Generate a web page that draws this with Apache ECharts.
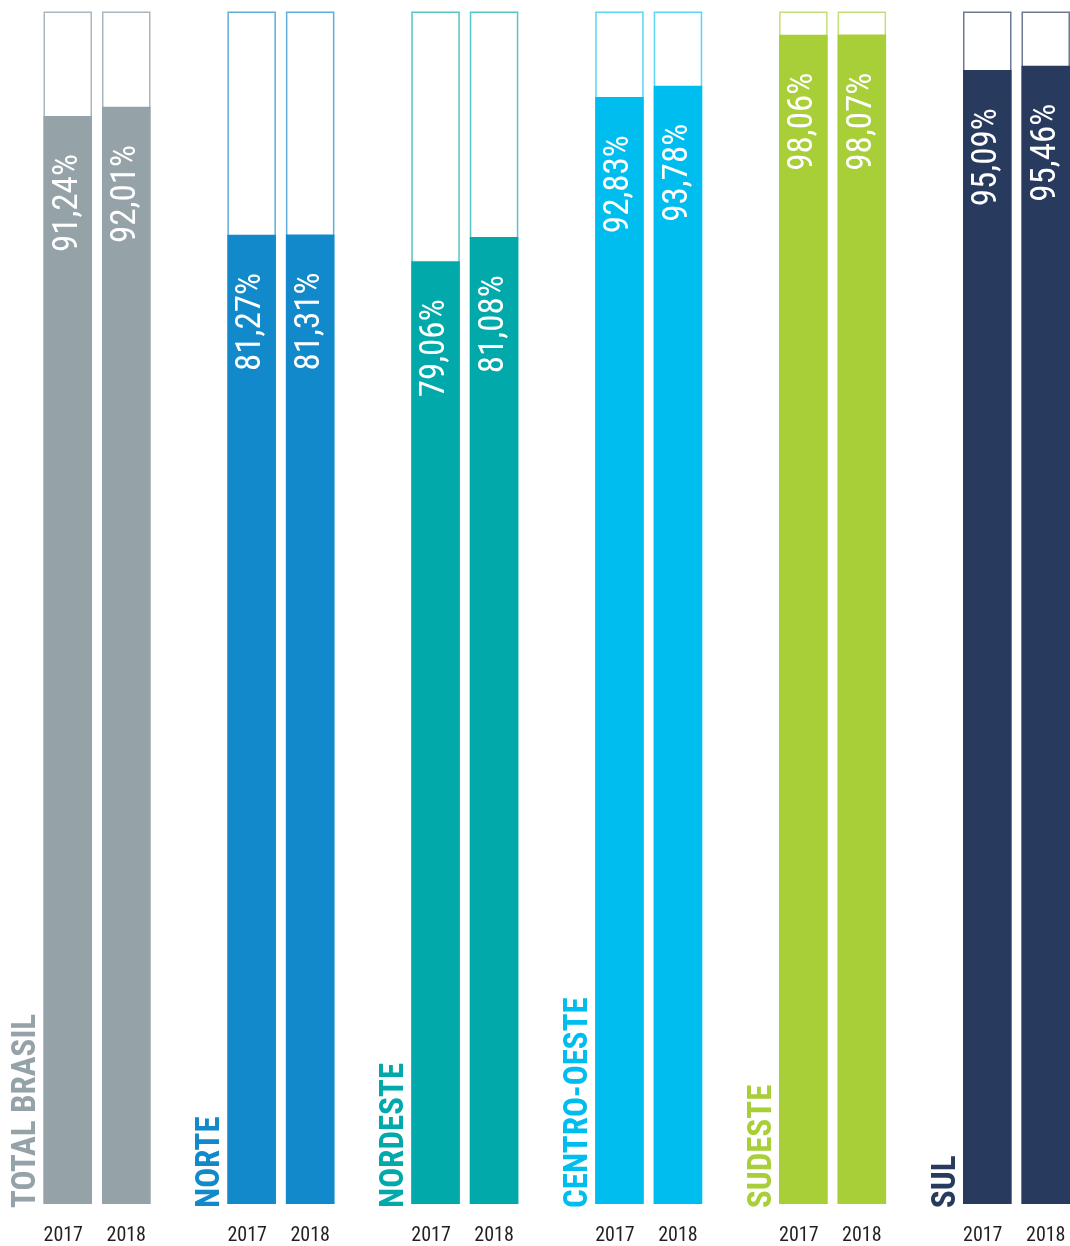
<!DOCTYPE html>
<html><head><meta charset="utf-8">
<script src="https://cdn.jsdelivr.net/npm/echarts@6/dist/echarts.min.js"></script>
<style>html,body{margin:0;padding:0;background:#fff}#c{width:1070px;height:1246px}</style>
</head><body><div id="c"></div>
<script>
const regions = ['TOTAL BRASIL','NORTE','NORDESTE','CENTRO-OESTE','SUDESTE','SUL'];
const years = ['2017','2018'];
const v2017 = [91.24,81.27,79.06,92.83,98.06,95.09];
const v2018 = [92.01,81.31,81.08,93.78,98.07,95.46];
const colors = ['#95A3A9','#1189CA','#01A9AA','#00BDF0','#A8CE38','#283A5E'];
const borders = ['#AAB6BB','#5EADDB','#55C4C4','#5CD3F4','#C4DF78','#6B7894'];

const FONT = '"Roboto Condensed","Liberation Sans Narrow","Roboto",sans-serif';
const grids=[], xAxes=[], yAxes=[], series=[], graphics=[];
// bar-centre layout: first bar centre at 67.75, centres 58.5 apart within a group
const pitch = 183.9, firstCenter = 67.75, step = 58.5, bw = 48.5, gTop = 11.5, gH = 1196.5;
const yearCats = years.map((y,k)=>({value:y, textStyle:{padding:k===0?[0,9,0,0]:[0,0,0,0]}}));
regions.forEach((r,i)=>{
  const left = firstCenter + i*pitch;
  grids.push({left:left, top:gTop, width:step, height:gH});
  xAxes.push({type:'category', gridIndex:i, data:yearCats, boundaryGap:false,
    axisLine:{show:false}, axisTick:{show:false}, splitLine:{show:false},
    axisLabel:{color:'#231F20', fontSize:20, margin:22, fontFamily:FONT}});
  yAxes.push({type:'value', gridIndex:i, min:0, max:100, show:false});
  series.push({type:'bar', xAxisIndex:i, yAxisIndex:i, data:[100,100], barWidth:bw, clip:false,
    silent:true, itemStyle:{color:'#fff', borderColor:borders[i], borderWidth:1.5}, z:1});
  series.push({type:'bar', xAxisIndex:i, yAxisIndex:i, data:[v2017[i], v2018[i]], barWidth:bw, clip:false,
    barGap:'-100%', itemStyle:{color:colors[i]}, z:2,
    label:{show:true, position:'insideTop', rotate:90, align:'right', verticalAlign:'middle',
      distance:38, color:'#fff', fontSize:35, fontFamily:FONT,
      formatter:p=>p.value.toFixed(2).replace('.',',')+'%'}});
  graphics.push({type:'text', x:left - bw/2 - 16.5, y:gTop+gH, rotation:Math.PI/2,
    style:{text:r, fill:colors[i], font:'bold 33px '+FONT, textAlign:'left', textVerticalAlign:'middle'}});
});
const chart = echarts.init(document.getElementById('c'));
chart.setOption({animation:false, grid:grids, xAxis:xAxes, yAxis:yAxes, series:series, graphic:graphics});
</script></body></html>
